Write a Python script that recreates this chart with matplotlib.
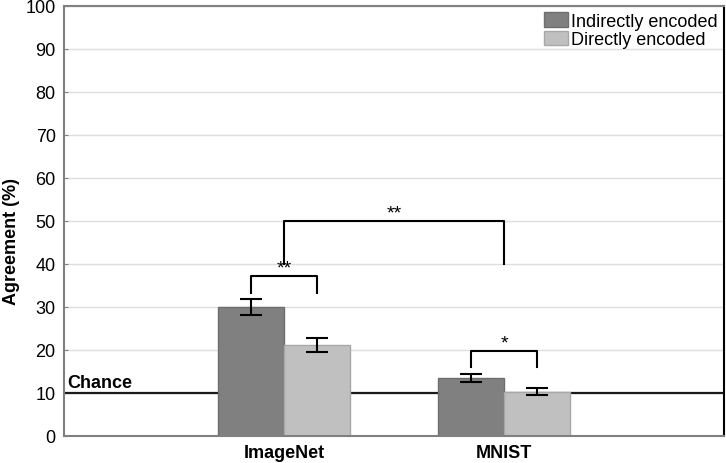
import matplotlib.pyplot as plt
import numpy as np

plt.rcParams['font.family'] = ['Liberation Sans', 'DejaVu Sans']

datasets = ["ImageNet", "MNIST"]
indirect = [30.0, 13.5]
indirect_err = [1.9, 1.0]
direct = [21.2, 10.3]
direct_err = [1.6, 0.8]
chance = 10
# significance brackets: (x1, x2, top, leg_bottom, label)
brackets = [(-0.15, 0.15, 37.3, 33.3, "**"),
            (0.85, 1.15, 19.8, 16.0, "*"),
            (0.0, 1.0, 50.1, 40.0, "**")]

fig = plt.figure(figsize=(7.26, 4.64), dpi=100)
ax = fig.add_axes([64/726, 27/464, 660/726, 430/464])

x = np.arange(len(datasets))
w = 0.3
ax.axhline(chance, color="#1a1a1a", lw=1.6, zorder=1)
ax.bar(x - w/2, indirect, w, color="#808080", edgecolor="#6e6e6e", lw=1,
       label="Indirectly encoded", zorder=2)
ax.bar(x + w/2, direct, w, color="#c0c0c0", edgecolor="#a8a8a8", lw=1,
       label="Directly encoded", zorder=2)
ax.errorbar(x - w/2, indirect, yerr=indirect_err, fmt="none", ecolor="black",
            elinewidth=1.5, capsize=8, capthick=1.5, zorder=3)
ax.errorbar(x + w/2, direct, yerr=direct_err, fmt="none", ecolor="black",
            elinewidth=1.5, capsize=8, capthick=1.5, zorder=3)

for x1, x2, top, bot, lab in brackets:
    ax.plot([x1, x1, x2, x2], [bot, top, top, bot], color="black", lw=1.5, zorder=3)
    ax.text((x1 + x2) / 2, top - 0.2, lab, ha="center", va="bottom", fontsize=14)

ax.text(-0.985, chance + 0.5, "Chance", fontsize=13, fontweight="bold",
        ha="left", va="bottom")

ax.set_xlim(-1, 2)
ax.set_ylim(0, 100)
ax.set_yticks(range(0, 101, 10))
ax.set_xticks(x)
ax.set_xticklabels(datasets, fontsize=13, fontweight="bold")
ax.tick_params(axis="y", labelsize=13, direction="in", length=3, color="#808080", pad=6)
ax.tick_params(axis="x", direction="in", length=3, color="#333333", pad=6)
ax.grid(axis="y", color="#dedede", lw=1, zorder=0)
ax.set_axisbelow(True)
ax.set_ylabel("Agreement (%)", fontsize=13, fontweight="bold")
ax.yaxis.set_label_coords(-0.067, 0.455)

for s in ["left", "bottom", "top"]:
    ax.spines[s].set_color("#808080")
    ax.spines[s].set_linewidth(1.5)
ax.spines["right"].set_color("black")
ax.spines["right"].set_linewidth(1.5)

ax.legend(loc="upper right", frameon=False, fontsize=13, handlelength=1.35,
          handleheight=0.85, handletextpad=0.15, labelspacing=0.05,
          borderaxespad=0.15, borderpad=0.2)

fig.savefig("out.png", dpi=100)
